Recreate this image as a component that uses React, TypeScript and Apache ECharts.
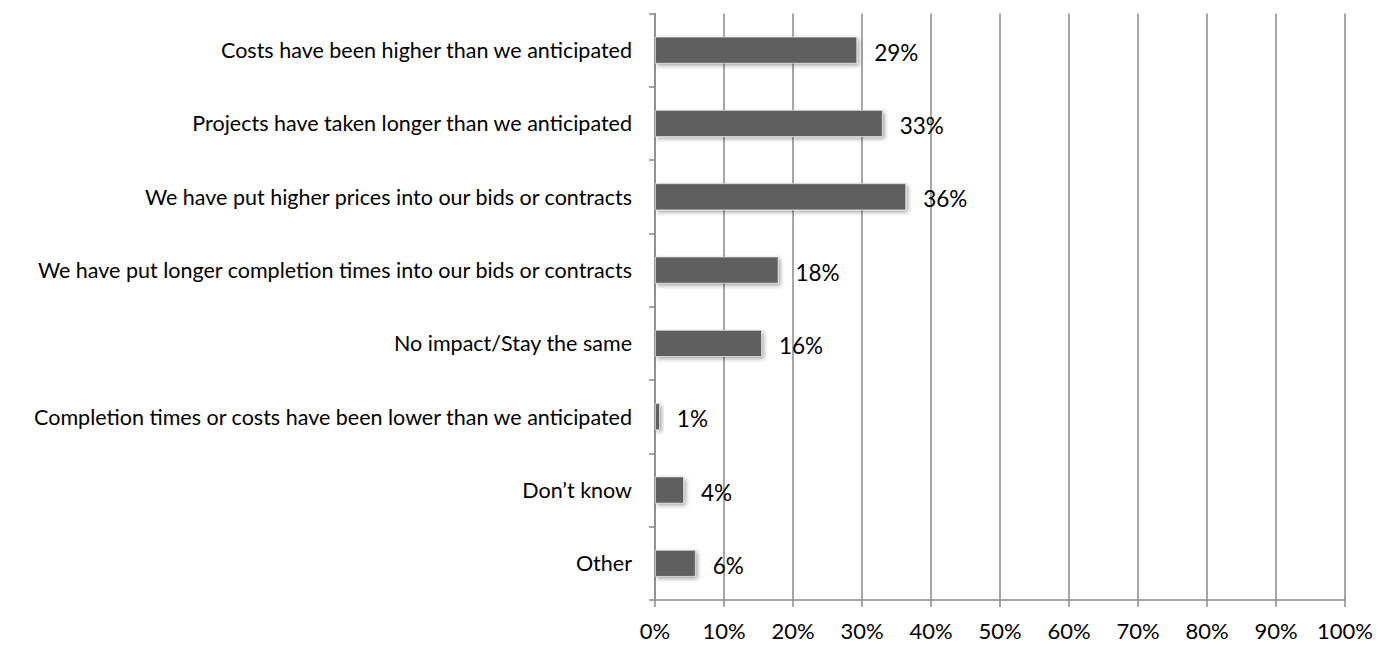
import React, { useEffect, useRef } from "react";
import * as echarts from "echarts";

const categories: string[] = [
  "Costs have been higher than we anticipated",
  "Projects have taken longer than we anticipated",
  "We have put higher prices into our bids or contracts",
  "We have put longer completion times into our bids or contracts",
  "No impact/Stay the same",
  "Completion times or costs have been lower than we anticipated",
  "Don\u2019t know",
  "Other",
];

const values: number[] = [29.3, 33.0, 36.4, 17.9, 15.5, 0.7, 4.2, 5.9];
const valueLabels: string[] = ["29%", "33%", "36%", "18%", "16%", "1%", "4%", "6%"];

const FONT = "Lato, 'Open Sans', sans-serif";

export default function App() {
  const ref = useRef<HTMLDivElement>(null);
  useEffect(() => {
    if (!ref.current) return;
    const chart = echarts.init(ref.current, undefined, { renderer: "svg" });
    chart.setOption({
      animation: false,
      backgroundColor: "#ffffff",
      grid: { left: 655, right: 34, top: 13.5, bottom: 45, containLabel: false },
      xAxis: {
        type: "value",
        min: 0,
        max: 100,
        interval: 10,
        axisLine: { show: true, lineStyle: { color: "#8a8a8a", width: 1.5 } },
        axisTick: { show: true, length: 7, lineStyle: { color: "#8a8a8a", width: 1.5 } },
        splitLine: { show: true, lineStyle: { color: "#8a8a8a", width: 1.5 } },
        axisLabel: {
          formatter: "{value}%",
          color: "#000",
          fontFamily: FONT,
          fontSize: 22,
          margin: 19,
        },
      },
      yAxis: {
        type: "category",
        inverse: true,
        data: categories,
        axisLine: { show: true, lineStyle: { color: "#8a8a8a", width: 1.5 } },
        axisTick: { show: true, length: 6, lineStyle: { color: "#8a8a8a", width: 1.5 } },
        axisLabel: {
          color: "#000",
          fontFamily: FONT,
          fontSize: 21.5,
          margin: 23,
        },
      },
      series: [
        {
          type: "bar",
          data: values,
          barWidth: 27,
          itemStyle: {
            color: "#5f5f5f",
            borderColor: "#e0e0e0",
            borderWidth: 0.8,
            shadowColor: "rgba(0,0,0,0.35)",
            shadowBlur: 4,
            shadowOffsetX: 2,
            shadowOffsetY: 2,
          },
          label: {
            show: true,
            position: "right",
            distance: 17,
            color: "#000",
            fontFamily: FONT,
            fontSize: 22.5,
            offset: [0, 2],
            formatter: (p: any) => valueLabels[p.dataIndex],
          },
        },
      ],
    });
    return () => chart.dispose();
  }, []);
  return (
    <div
      ref={ref}
      style={{ position: "fixed", left: 0, top: 0, width: 1379, height: 645 }}
    />
  );
}
